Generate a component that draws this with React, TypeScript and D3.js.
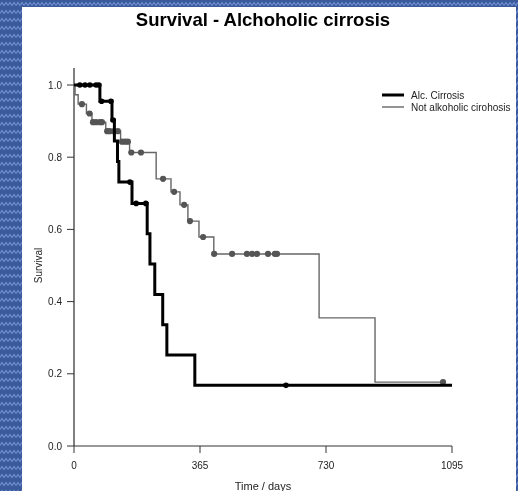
import React from "react";
import * as d3 from "d3";

// Alc. Cirrosis (Kaplan-Meier steps)
const alcTimes = [0, 75, 110, 117, 126, 130, 168, 212, 220, 234, 257, 269, 350, 1095];
const alcSurv = [1, 0.955, 0.903, 0.845, 0.788, 0.731, 0.672, 0.588, 0.504, 0.42, 0.336, 0.252, 0.168, 0.168];
const alcCensor = [17, 32, 46, 64, 72, 80, 107, 113, 162, 180, 208, 614];

// Not alkoholic cirohosis
const notTimes = [0, 3, 12, 36, 52, 92, 135, 161, 238, 281, 307, 330, 362, 405, 710, 872, 1069];
const notSurv = [1, 0.973, 0.947, 0.921, 0.897, 0.872, 0.843, 0.813, 0.74, 0.704, 0.668, 0.623, 0.579, 0.532, 0.355, 0.177, 0.177];
const notCensor = [23, 45, 55, 64, 75, 81, 96, 104, 116, 127, 139, 148, 156, 166, 194, 258, 290, 319, 336, 374, 406, 458, 501, 516, 530, 562, 582, 588, 1069];

const xTicks = [0, 365, 730, 1095];
const yTicks = [0, 0.2, 0.4, 0.6, 0.8, 1.0];
const legendLabels = ["Alc. Cirrosis", "Not alkoholic cirohosis"];

const W = 518;
const H = 491;
const FONT = "'Liberation Sans', Arial, sans-serif";

function survAt(times: number[], surv: number[], t: number) {
  let s = surv[0];
  for (let i = 0; i < times.length; i++) if (times[i] <= t) s = surv[i];
  return s;
}

export default function App() {
  const x = d3.scaleLinear().domain([0, 1095]).range([74, 452]);
  const y = d3.scaleLinear().domain([0, 1]).range([446, 85]);
  const line = d3
    .line<[number, number]>()
    .x((d) => x(d[0]))
    .y((d) => y(d[1]))
    .curve(d3.curveStepAfter);
  const alcPts = alcTimes.map((t, i) => [t, alcSurv[i]] as [number, number]);
  const notPts = notTimes.map((t, i) => [t, notSurv[i]] as [number, number]);

  return (
    <svg
      width={W}
      height={H}
      style={{ position: "fixed", left: 0, top: 0, display: "block" }}
      fontFamily={FONT}
    >
      <defs>
        <pattern id="bg" width="8" height="8" patternUnits="userSpaceOnUse">
          <rect width="8" height="8" fill="#3a5a9c" />
          <path d="M0,5.5 L2,2.5 L4,5.5 L6,2.5 L8,5.5" fill="none" stroke="#6f8ed0" strokeWidth="1.2" />
        </pattern>
      </defs>
      <rect x={0} y={0} width={W} height={H} fill="url(#bg)" />
      <rect x={22} y={7} width={494} height={H - 7} fill="#ffffff" />

      <text x={263} y={26} textAnchor="middle" fontSize={18.5} fontWeight="bold" fill="#000">
        Survival - Alchoholic cirrosis
      </text>

      {/* axes */}
      <line x1={74} x2={74} y1={68} y2={y(0)} stroke="#000" strokeWidth={1} />
      <line x1={x(0)} x2={x(1095)} y1={446} y2={446} stroke="#333" strokeWidth={1} />
      {yTicks.map((t) => (
        <g key={"y" + t}>
          <line x1={67} x2={74} y1={y(t)} y2={y(t)} stroke="#333" />
          <text x={62} y={y(t) + 3.5} textAnchor="end" fontSize={10} fill="#222">
            {t.toFixed(1)}
          </text>
        </g>
      ))}
      {xTicks.map((t) => (
        <g key={"x" + t}>
          <line x1={x(t)} x2={x(t)} y1={446} y2={453} stroke="#333" />
          <text x={x(t)} y={469} textAnchor="middle" fontSize={10} fill="#222">
            {t}
          </text>
        </g>
      ))}
      <text x={263} y={490} textAnchor="middle" fontSize={11} fill="#222">
        Time / days
      </text>
      <text
        transform={`translate(42,${y(0.5)}) rotate(-90)`}
        textAnchor="middle"
        fontSize={10}
        fill="#222"
      >
        Survival
      </text>

      {/* curves */}
      <path d={line(notPts) || ""} fill="none" stroke="#666" strokeWidth={1.4} />
      {notCensor.map((t, i) => (
        <circle key={"n" + i} cx={x(t)} cy={y(survAt(notTimes, notSurv, t))} r={3.1} fill="#555" />
      ))}
      <path d={line(alcPts) || ""} fill="none" stroke="#000" strokeWidth={3} />
      {alcCensor.map((t, i) => (
        <circle key={"a" + i} cx={x(t)} cy={y(survAt(alcTimes, alcSurv, t))} r={2.8} fill="#000" />
      ))}

      {/* legend */}
      <line x1={382} x2={404} y1={95} y2={95} stroke="#000" strokeWidth={3} />
      <text x={411} y={98.5} fontSize={10} fill="#222">
        {legendLabels[0]}
      </text>
      <line x1={382} x2={404} y1={107} y2={107} stroke="#666" strokeWidth={1.4} />
      <text x={411} y={110.5} fontSize={10} fill="#222">
        {legendLabels[1]}
      </text>
    </svg>
  );
}
